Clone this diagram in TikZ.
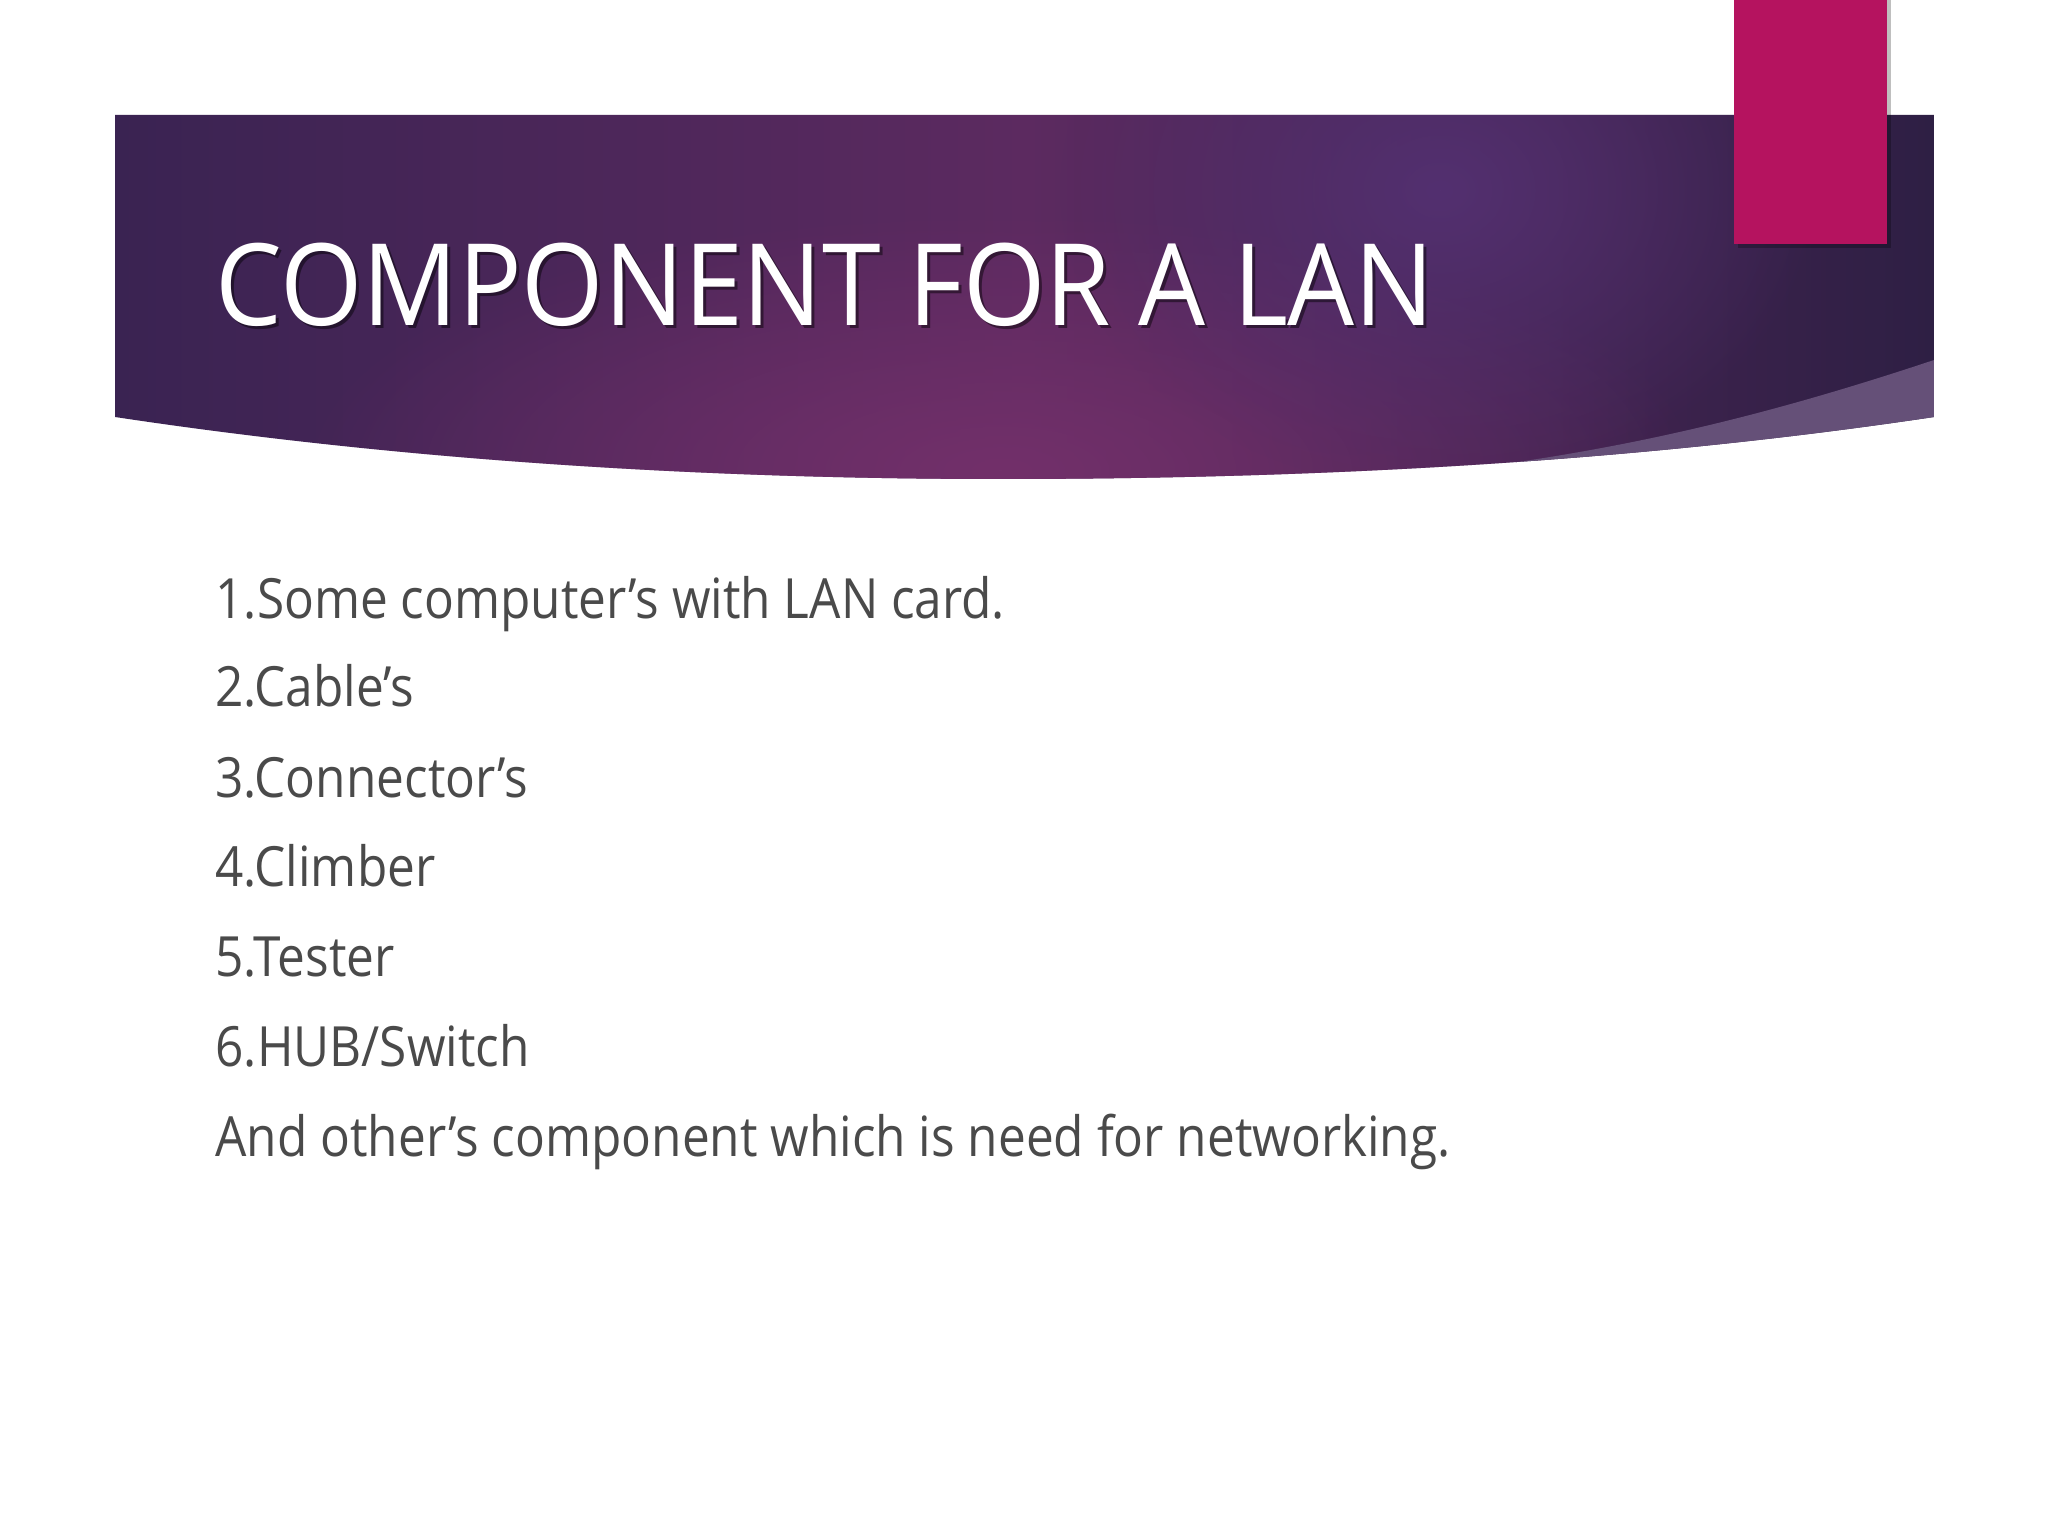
\documentclass[tikz,border=0pt]{standalone}
\usepackage{fontspec}
\setmainfont{Open Sans}
\newfontfamily\titlefont{Open Sans}[FakeStretch=0.93]
\newfontfamily\bodyfont{Open Sans}[FakeStretch=0.893]
\usetikzlibrary{fadings}
\tikzfading[name=softglow, inner color=transparent!0, outer color=transparent!100]
\definecolor{bandL}{HTML}{3A2352}
\definecolor{bandM}{HTML}{5C2A60}
\definecolor{bandR}{HTML}{2E1F44}
\definecolor{glowB}{HTML}{72306A}
\definecolor{glowT}{HTML}{533070}
\definecolor{sliver}{HTML}{655078}
\definecolor{accent}{HTML}{B5135F}
\definecolor{bodytext}{HTML}{4A4A4A}
\tikzset{
  titletext/.style={anchor=base west, inner sep=0pt, text=white, font=\titlefont\fontsize{40}{48}\selectfont},
  bodyline/.style={anchor=base west, inner sep=0pt, text=bodytext, font=\bodyfont\fontsize{19.5}{24}\selectfont},
}
\begin{document}
\begin{tikzpicture}[x=0.3515625pt,y=-0.3515625pt]
\fill[white] (0,0) rectangle (2048,1536);
\useasboundingbox (0,0) rectangle (2048,1536);
% band
\begin{scope}
\clip (115,115) -- (1934,115) -- (1934,417)
  .. controls (1700,452) and (1400,479) .. (1000,479)
  .. controls (700,479) and (400,460) .. (115,417) -- cycle;
\shade[left color=bandL, right color=bandR, middle color=bandM] (115,115) rectangle (1934,480);
\fill[glowB, path fading=softglow] (1000,470) ellipse (700 and 260);
\fill[glowT, path fading=softglow] (1440,190) ellipse (380 and 300);
\fill[sliver] (1934,360) .. controls (1730,428) and (1580,458) .. (1390,478) -- (1390,520) -- (1934,520) -- cycle;
\end{scope}
% accent bar with shadow
\fill[black, opacity=0.25] (1738,0) rectangle (1891,248);
\fill[accent] (1734,0) rectangle (1887,244);
% title
\node[titletext, text=black, opacity=0.45] (titleshadow) at (218,329) {COMPONENT FOR A LAN};
\node[titletext] (title) at (215,326) {COMPONENT FOR A LAN};
% body
\node[bodyline] (l1) at (215,618) {1.Some computer’s with LAN card.};
\node[bodyline] (l2) at (215,707) {2.Cable’s};
\node[bodyline] (l3) at (215,797) {3.Connector’s};
\node[bodyline] (l4) at (215,886) {4.Climber};
\node[bodyline] (l5) at (215,976) {5.Tester};
\node[bodyline] (l6) at (215,1066) {6.HUB/Switch};
\node[bodyline] (l7) at (215,1156) {And other’s component which is need for networking.};
\end{tikzpicture}
\end{document}
